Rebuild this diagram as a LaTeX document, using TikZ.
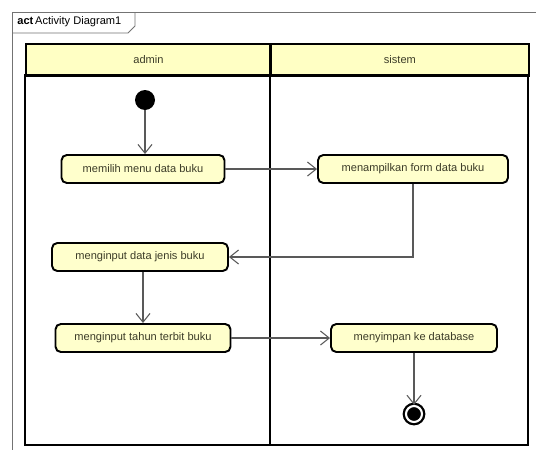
\documentclass[tikz,border=0pt]{standalone}
\usepackage{fontspec}
\setmainfont{Liberation Sans}
\usetikzlibrary{arrows.meta}
\definecolor{actfill}{RGB}{255,255,204}
\definecolor{lanefill}{RGB}{255,255,196}
\definecolor{txtcol}{RGB}{60,60,40}
\tikzset{
	actionstyle/.style={rectangle,rounded corners=3pt,draw=black,line width=1.1pt,fill=actfill,minimum height=0.56cm,font=\fontsize{6.3}{7}\selectfont,text=txtcol},
	headstyle/.style={rectangle,draw=black,line width=1.1pt,fill=lanefill,minimum height=0.64cm,font=\fontsize{6.3}{7}\selectfont,text=txtcol},
	flowstyle/.style={draw=black!65,line width=0.6pt,-{Straight Barb[length=5pt,width=8pt]}},
	startstyle/.style={circle,fill=black,minimum size=0.4cm,inner sep=0pt},
	endstyle/.style={circle,draw=black,line width=1.3pt,fill=black,double=white,double distance=1.2pt,minimum size=0.32cm,inner sep=0pt}
}
\begin{document}
\begin{tikzpicture}[x={(0.02cm,0)},y={(0,-0.02cm)}]
	\useasboundingbox (0,0) rectangle (536,450);
	\fill[white] (0,0) rectangle (536,450);
	% frame
	\draw[black!55,line width=0.5pt] (536,12) -- (12,12) -- (12,450);
	\draw[black!55,line width=0.5pt] (12,33) -- (128,33) -- (135,26) -- (135,12);
	\node[anchor=west,inner sep=0pt,font=\fontsize{6.3}{7}\selectfont] (tag) at (17,22) {\textbf{act}\,Activity Diagram1};
	% swimlanes
	\node[headstyle,minimum width=4.9cm,anchor=north west] (admin) at (25,43) {admin};
	\node[headstyle,minimum width=5.16cm,anchor=north west] (sistem) at (270,43) {sistem};
	\draw[black,line width=1.1pt] (25,75) rectangle (528,445);
	\draw[black,line width=1.1pt] (270,43) -- (270,445);
	% nodes
	\node[startstyle] (start) at (145,100) {};
	\node[actionstyle,minimum width=3.26cm] (pilih) at (143,169) {memilih menu data buku};
	\node[actionstyle,minimum width=3.8cm] (tampil) at (413,169) {menampilkan form data buku};
	\node[actionstyle,minimum width=3.52cm] (jenis) at (140,257) {menginput data jenis buku};
	\node[actionstyle,minimum width=3.5cm] (tahun) at (143,338) {menginput tahun terbit buku};
	\node[actionstyle,minimum width=3.32cm] (simpan) at (414,338) {menyimpan ke database};
	\node[endstyle] (end) at (414,414) {};
	% flows
	\draw[flowstyle] (start) -- (start |- pilih.north);
	\draw[flowstyle] (pilih) -- (tampil);
	\draw[flowstyle] (tampil.south) |- (jenis.east);
	\draw[flowstyle] (jenis.south -| tahun.north) -- (tahun.north);
	\draw[flowstyle] (tahun) -- (simpan);
	\draw[flowstyle] (simpan) -- (end);
\end{tikzpicture}
\end{document}
